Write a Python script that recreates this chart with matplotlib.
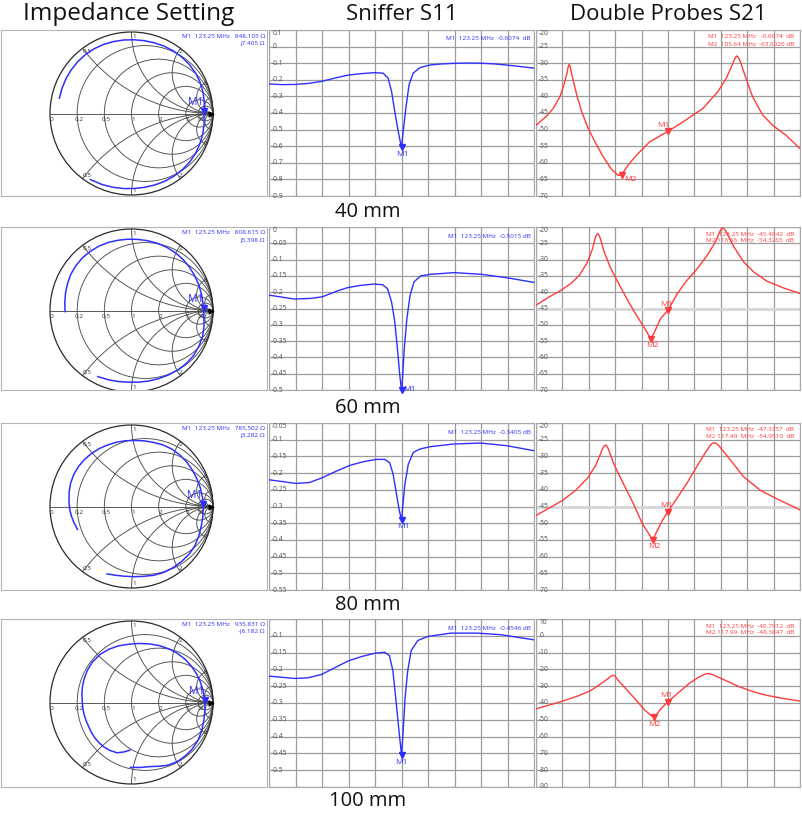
import numpy as np
import matplotlib
matplotlib.use('Agg')
import matplotlib.pyplot as plt
from matplotlib.patches import Circle

plt.rcParams['font.family'] = ['Open Sans', 'DejaVu Sans']

W, H = 802, 815

col_titles = ['Impedance Setting', 'Sniffer S11', 'Double Probes S21']
title_size = [17.5, 16, 16]
row_labels = ['40 mm', '60 mm', '80 mm', '100 mm']

f_center = 123.25
f_start, f_stop = 73.25, 173.25

# Smith chart traces: angle of Gamma (deg) and |Gamma|
smith_ang_40 = [168, 160, 152, 144, 136, 128, 120, 112, 104, 96, 88, 80, 72, 64, 56,
                48, 40, 32, 24, 16, 8, 0, -8, -16, -24, -32, -40, -48, -56, -64, -72,
                -80, -88, -96, -104, -112, -122]
smith_mag_40 = [0.905, 0.907, 0.91, 0.913, 0.916, 0.918, 0.917, 0.914, 0.91, 0.907,
                0.905, 0.907, 0.912, 0.918, 0.924, 0.928, 0.93, 0.93, 0.925, 0.915,
                0.902, 0.889, 0.9, 0.91, 0.918, 0.926, 0.93, 0.93, 0.929, 0.926, 0.922,
                0.92, 0.921, 0.926, 0.933, 0.943, 0.955]
smith_ang_60 = [181, 173, 165, 157, 149, 141, 133, 125, 117, 109, 101, 93, 85, 77, 69,
                61, 53, 45, 37, 29, 21, 13, 5, 0, -6, -12, -20, -28, -36, -44, -52, -60,
                -68, -76, -84, -92, -100, -108, -117]
smith_mag_60 = [0.815, 0.825, 0.838, 0.852, 0.867, 0.877, 0.883, 0.885, 0.885, 0.882,
                0.878, 0.876, 0.876, 0.879, 0.884, 0.888, 0.89, 0.89, 0.888, 0.885,
                0.883, 0.882, 0.882, 0.884, 0.893, 0.91, 0.928, 0.937, 0.94, 0.935,
                0.925, 0.912, 0.9, 0.891, 0.884, 0.88, 0.886, 0.896, 0.91]
smith_ang_80 = [203, 196, 189, 182, 175, 167, 159, 151, 143, 135, 127, 119, 111, 103,
                95, 87, 79, 71, 63, 55, 47, 39, 31, 23, 15, 7, 0, -8, -16, -24, -32,
                -40, -48, -56, -64, -72, -80, -88, -96, -103, -110]
smith_mag_80 = [0.72, 0.733, 0.747, 0.76, 0.77, 0.785, 0.80, 0.81, 0.815, 0.816, 0.815,
                0.813, 0.81, 0.81, 0.81, 0.812, 0.82, 0.832, 0.848, 0.861, 0.867, 0.87,
                0.87, 0.872, 0.875, 0.878, 0.88, 0.884, 0.89, 0.902, 0.915, 0.918,
                0.912, 0.907, 0.9, 0.887, 0.87, 0.862, 0.86, 0.866, 0.88]
smith_ang_100 = [-92, -99, -106, -114, -122, -129, -136, -143, -150, -158, -166, -174,
                 -182, -190, -198, -207, -216, -226, -237, -247, -257, -267, -277, -287,
                 -296, -305, -313, -321, -329, -336, -343, -350, -358, -366, -374, -382,
                 -390, -398, -405, -412, -420, -427, -434, -442, -451]
smith_mag_100 = [0.585, 0.615, 0.642, 0.645, 0.642, 0.634, 0.625, 0.614, 0.604, 0.6,
                 0.6, 0.602, 0.605, 0.618, 0.633, 0.65, 0.67, 0.69, 0.706, 0.71, 0.713,
                 0.716, 0.73, 0.752, 0.777, 0.803, 0.825, 0.845, 0.86, 0.872, 0.881,
                 0.89, 0.898, 0.906, 0.914, 0.928, 0.94, 0.938, 0.93, 0.918, 0.89, 0.85,
                 0.818, 0.805, 0.796]
smith_ang = [smith_ang_40, smith_ang_60, smith_ang_80, smith_ang_100]
smith_mag = [smith_mag_40, smith_mag_60, smith_mag_80, smith_mag_100]

# marker impedance (ohm), Z0 = 50
smith_m1_r = [848.105, 808.615, 785.502, 935.831]
smith_m1_x = [7.405, 5.398, 3.282, -6.182]
smith_info = ['M1  123.25 MHz   848.105 Ω', 'M1  123.25 MHz   808.615 Ω',
              'M1  123.25 MHz   785.502 Ω', 'M1  123.25 MHz   935.831 Ω']
smith_info2 = ['j7.405 Ω', 'j5.398 Ω', 'j3.282 Ω', '-j6.182 Ω']

smith_r = [0.2, 0.5, 1, 2, 5, 10]
smith_x = [0.5, 1, 2, 5, 10]
smith_r_labels = ['0', '0.2', '0.5', '1', '2', '5', '10']
smith_x_labels = ['0.5', '1', '2', '5']

# Sniffer S11 (MHz, dB)
s11_f_40 = [73.25, 78, 83, 88, 93, 98, 103, 108, 113, 116.3, 118.2, 119.5, 120.7, 122.0,
            123.0, 123.25, 123.9, 124.9, 126.1, 127.65, 130.2, 133.9, 138, 142.7, 148,
            152.8, 158, 162.9, 168, 173.25]
s11_db_40 = [-0.225, -0.229, -0.228, -0.222, -0.21, -0.19, -0.172, -0.163, -0.157, -0.16,
             -0.19, -0.27, -0.39, -0.51, -0.59, -0.607, -0.51, -0.37, -0.23, -0.16,
             -0.127, -0.111, -0.105, -0.101, -0.099, -0.1, -0.104, -0.111, -0.12, -0.13]
s11_f_60 = [73.25, 82.8, 89.0, 93.4, 99.1, 102.9, 107.9, 112.9, 116.1, 117.97, 119.5,
            120.7, 121.7, 122.6, 123.25, 123.6, 124.3, 125.3, 126.5, 128.0, 130.5, 134.3,
            143.1, 153.2, 163.3, 173.25]
s11_db_60 = [-0.209, -0.221, -0.219, -0.214, -0.196, -0.186, -0.179, -0.175, -0.177,
             -0.189, -0.23, -0.29, -0.372, -0.454, -0.5015, -0.47, -0.372, -0.28, -0.209,
             -0.168, -0.15, -0.145, -0.14, -0.145, -0.156, -0.17]
s11_f_80 = [73.25, 83.5, 88.6, 93.0, 98.7, 103.7, 108.8, 113.8, 116.9, 118.8, 120.1,
            121.4, 122.4, 123.25, 123.6, 124.5, 125.8, 127.7, 130.2, 134.0, 142.8, 152.9,
            163.0, 173.25]
s11_db_80 = [-0.22, -0.231, -0.228, -0.215, -0.194, -0.177, -0.166, -0.159, -0.159,
             -0.169, -0.204, -0.265, -0.311, -0.3405, -0.31, -0.235, -0.174, -0.138,
             -0.128, -0.121, -0.113, -0.11, -0.118, -0.133]
s11_f_100 = [73.25, 83.0, 88.0, 93.1, 98.1, 103.1, 108.1, 113.1, 116.9, 118.7, 120.0,
             121.2, 122.2, 123.25, 123.75, 124.6, 125.6, 126.9, 129.4, 133.1, 141.9,
             151.9, 161.0, 173.25]
s11_db_100 = [-0.22, -0.227, -0.225, -0.215, -0.195, -0.175, -0.162, -0.152, -0.149,
              -0.159, -0.204, -0.295, -0.375, -0.4546, -0.40, -0.285, -0.204, -0.144,
              -0.114, -0.102, -0.092, -0.092, -0.097, -0.112]
s11_f = [s11_f_40, s11_f_60, s11_f_80, s11_f_100]
s11_db = [s11_db_40, s11_db_60, s11_db_80, s11_db_100]
s11_info = ['M1  123.25 MHz  -0.6074  dB', 'M1  123.25 MHz  -0.5015 dB',
            'M1  123.25 MHz  -0.3405 dB', 'M1  123.25 MHz  -0.4546 dB']
s11_ylim = [(-0.9, 0.1), (-0.5, 0.0), (-0.55, -0.05), (-0.55, -0.05)]
s11_step = [0.1, 0.05, 0.05, 0.05]
s11_label_range = [(-0.9, 0.1), (-0.5, 0.0), (-0.55, -0.05), (-0.5, -0.1)]

# Double probes S21 (MHz, dB)
s21_f_40 = [73.25, 77.3, 79.8, 82.3, 83.8, 85.0, 85.4, 85.8, 86.2, 86.8, 88.7, 90.55,
            93.05, 95.6, 98.7, 101.9, 104.4, 105.64, 108.15, 111.3, 116.3, 123.25, 128.9,
            136.5, 142.1, 145.3, 147.8, 148.6, 149.3, 150.0, 150.9, 152.8, 155.3, 159.1,
            162.9, 167.9, 173.25]
s21_db_40 = [-48.7, -45.9, -43.6, -40.1, -36.6, -33.0, -31.2, -30.4, -31.0, -33.4, -39.6,
             -44.6, -49.7, -53.7, -58.2, -62.0, -63.8, -63.6, -60.7, -57.7, -53.7, -50.5,
             -47.7, -43.6, -38.6, -34.6, -30.1, -28.5, -27.8, -28.4, -30.1, -34.6, -40.1,
             -45.6, -48.7, -51.7, -55.7]
s21_f_60 = [73.25, 77.7, 82.75, 86.5, 89.7, 92.8, 94.7, 95.3, 95.95, 96.6, 97.2, 97.9,
            99.1, 101.6, 104.2, 107.9, 111.7, 114.8, 116.66, 117.9, 120.5, 123.25, 126.8,
            130.5, 134.3, 138.1, 141.2, 142.3, 143.1, 143.8, 144.6, 145.4, 148.2, 151.9,
            155.7, 160.7, 167.0, 173.25]
s21_db_60 = [-44.0, -41.7, -39.4, -37.3, -34.8, -30.7, -26.6, -24.5, -22.7, -22.0, -22.6,
             -24.3, -27.7, -32.8, -36.8, -42.4, -47.6, -51.6, -54.3, -52.6, -48.0, -45.5,
             -40.4, -36.3, -32.8, -28.7, -24.6, -22.5, -21.0, -20.3, -20.6, -21.6, -26.1,
             -30.7, -33.8, -36.6, -38.7, -40.4]
s21_f_80 = [73.25, 77.9, 83.1, 88.2, 92.7, 95.9, 97.8, 98.3, 99.0, 99.7, 100.3, 101.0,
            102.9, 106.05, 109.9, 113.7, 116.25, 117.49, 119.0, 121.3, 123.25, 126.4,
            130.3, 134.1, 137.3, 139.0, 139.8, 140.6, 141.5, 142.5, 146.8, 151.9, 158.3,
            164.7, 173.25]
s21_db_80 = [-47.7, -45.6, -43.3, -40.2, -36.6, -32.6, -29.0, -28.0, -26.9, -26.6, -27.1,
             -28.5, -32.6, -37.7, -43.8, -50.4, -53.5, -54.95, -52.5, -48.9, -46.5, -42.8,
             -38.2, -33.1, -29.0, -27.0, -26.2, -25.9, -26.1, -26.8, -31.0, -36.1, -40.2,
             -42.8, -46.0]
s21_f_100 = [73.25, 79.2, 84.3, 89.3, 93.8, 96.9, 100.1, 101.2, 102.0, 102.6, 103.2,
             103.9, 107.05, 110.9, 114.6, 117.2, 117.99, 118.8, 120.3, 123.25, 127.3,
             131.1, 134.9, 136.5, 137.3, 138.1, 139.0, 140.0, 145.0, 150.1, 155.2, 160.2,
             166.5, 173.25]
s21_db_100 = [-43.5, -40.8, -38.4, -35.7, -32.7, -29.6, -26.0, -24.6, -23.7, -23.5, -24.0,
              -25.6, -31.1, -37.8, -44.5, -47.8, -48.4, -47.2, -43.9, -39.2, -33.7, -28.6,
              -24.6, -23.4, -22.8, -22.5, -22.6, -23.0, -26.6, -30.2, -33.1, -35.3, -37.2,
              -38.8]
s21_f = [s21_f_40, s21_f_60, s21_f_80, s21_f_100]
s21_db = [s21_db_40, s21_db_60, s21_db_80, s21_db_100]
s21_m2_f = [105.64, 116.66, 117.49, 117.99]
s21_info1 = ['M1  123.25 MHz   -0.6074  dB', 'M1  123.25 MHz  -45.4842  dB',
             'M1  123.25 MHz  -47.3757  dB', 'M1  123.25 MHz  -40.7912  dB']
s21_info2 = ['M2  105.64 MHz  -63.6026 dB', 'M2 116.66  MHz  -54.3265  dB',
             'M2 117.49  MHz  -54.9510  dB', 'M2 117.99  MHz  -48.3847  dB']
s21_ylim = [(-70, -20), (-70, -20), (-70, -20), (-90, 10)]
s21_step = [5, 5, 5, 10]
s21_ref = [None, -45, -45, None]

# layout in pixels
row_top = [30, 227, 423, 619]
row_bot = [196, 390, 590, 787]
row_label_y = [212, 408, 605, 801]
col_x = [(1, 267), (269, 534), (536, 800)]
title_x = [129, 402, 668]

BLUE = '#2f2fff'
RED = '#ff3b3b'
GRID = '#9c9c9c'
SMITH_GRID = '#4c4c4c'


def px_axes(fig, x0, y0, x1, y1):
    return fig.add_axes([x0 / W, 1 - y1 / H, (x1 - x0) / W, (y1 - y0) / H])


def fig_text(fig, x, y, s, **kw):
    fig.text(x / W, 1 - y / H, s, **kw)


def draw_smith(fig, i):
    x0, x1 = col_x[0]
    y0, y1 = row_top[i], row_bot[i]
    ax = px_axes(fig, x0, y0, x1, y1)
    R = 81.5
    cx, cy = 131.5, y0 + 83.5
    ax.set_xlim(-(cx - x0) / R, (x1 - cx) / R)
    ax.set_ylim(-(y1 - cy) / R, (cy - y0) / R)
    ax.set_xticks([])
    ax.set_yticks([])
    for sp in ax.spines.values():
        sp.set_color('#b4b4b4')
        sp.set_linewidth(0.8)

    unit = Circle((0, 0), 1, transform=ax.transData)
    for r in smith_r:
        ax.add_patch(Circle((r / (1 + r), 0), 1 / (1 + r), fill=False,
                            ec=SMITH_GRID, lw=0.65))
    for xv in smith_x:
        for sgn in (1, -1):
            c = Circle((1, sgn / xv), 1 / xv, fill=False, ec=SMITH_GRID, lw=0.65)
            ax.add_patch(c)
            c.set_clip_path(unit)
    ax.add_patch(Circle((0, 0), 1, fill=False, ec='#2a2a2a', lw=0.9))
    ax.plot([-1, 1], [0, 0], color=SMITH_GRID, lw=0.65)

    # resistance labels along the real axis
    cross = [-1.0] + [(r - 1) / (r + 1) for r in smith_r]
    for u, lab in zip(cross, smith_r_labels):
        ax.text(u + 0.02, -0.075, lab, fontsize=4.6, color='#333333',
                ha='center', va='center')
    # reactance labels on the rim
    for xv, lab in zip(smith_x[:4], smith_x_labels):
        gu = (xv ** 2 - 1) / (xv ** 2 + 1)
        gv = 2 * xv / (xv ** 2 + 1)
        for sgn in (1, -1):
            ax.text(0.95 * gu + 0.03, sgn * 0.95 * gv, lab, fontsize=4.6,
                    color='#333333', ha='center', va='center')

    a = np.radians(smith_ang[i])
    m = np.array(smith_mag[i])
    ax.plot(m * np.cos(a), m * np.sin(a), color=BLUE, lw=1.1)

    z = complex(smith_m1_r[i], smith_m1_x[i]) / 50.0
    g = (z - 1) / (z + 1)
    ax.plot(0.975, 0, marker='>', color='black', ms=3.5)
    ax.plot(g.real, g.imag + 0.03, marker='v', color=BLUE, ms=4)
    ax.text(g.real - 0.1, g.imag + 0.13, 'M1', color=BLUE, fontsize=7.5,
            ha='center', va='center')

    fig_text(fig, x1 - 2, y0 + 6, smith_info[i], fontsize=4.6, color=BLUE,
             ha='right', va='center')
    fig_text(fig, x1 - 2, y0 + 13, smith_info2[i], fontsize=4.6, color=BLUE,
             ha='right', va='center')


def draw_rect(fig, col, i, f, db, ylim, step, label_range, color):
    x0, x1 = col_x[col]
    y0, y1 = row_top[i], row_bot[i]
    ax = px_axes(fig, x0, y0, x1, y1)
    ax.set_xlim(f_start, f_stop)
    ax.set_ylim(*ylim)
    ax.set_xticks(np.arange(f_start, f_stop + 0.01, 10.0))
    ticks = np.arange(ylim[0], ylim[1] + step / 2, step)
    ax.set_yticks(ticks)
    ax.tick_params(length=0, labelleft=False, labelbottom=False)
    ax.grid(True, color=GRID, lw=0.9)
    for sp in ax.spines.values():
        sp.set_color('#a8a8a8')
        sp.set_linewidth(0.8)
    tr = ax.get_yaxis_transform()
    for t in ticks:
        if t < label_range[0] - 1e-9 or t > label_range[1] + 1e-9:
            continue
        lab = '0' if abs(t) < 1e-9 else f'{round(t, 3):g}'
        va = 'top' if abs(t - ylim[1]) < 1e-9 else 'center'
        ax.text(0.012, t, lab, transform=tr, fontsize=4.8, color='#4a4a4a',
                ha='left', va=va, clip_on=False)
    ax.plot(f, db, color=color, lw=1.0, zorder=3)
    return ax


fig = plt.figure(figsize=(W / 100, H / 100), dpi=100)
fig.patch.set_facecolor('white')

for x, t, fs in zip(title_x, col_titles, title_size):
    fig_text(fig, x, 14, t, fontsize=fs, ha='center', va='center', color='#111111')

s11_lab_off = [(1, -7), (8, 1), (2, -6), (0, -8)]
s21_m1_off = [(-5, 6), (-2, 6), (-2, 6), (-2, 6)]
s21_m2_off = [(9, -5), (2, -7), (2, -7), (0, -7)]

for i in range(4):
    draw_smith(fig, i)

    # sniffer S11
    ax = draw_rect(fig, 1, i, s11_f[i], s11_db[i], s11_ylim[i], s11_step[i],
                   s11_label_range[i], BLUE)
    m1 = np.interp(f_center, s11_f[i], s11_db[i])
    ax.plot(f_center, m1, marker='v', color=BLUE, ms=4, zorder=4, clip_on=False)
    dx, dy = s11_lab_off[i]
    ax.annotate('M1', (f_center, m1), xytext=(dx, dy), textcoords='offset pixels',
                color=BLUE, fontsize=6, ha='center', va='center',
                annotation_clip=False)
    x0, x1 = col_x[1]
    fig_text(fig, x1 - 3, row_top[i] + 9, s11_info[i], fontsize=4.6, color=BLUE,
             ha='right', va='center')

    # double probes S21
    ax = draw_rect(fig, 2, i, s21_f[i], s21_db[i], s21_ylim[i], s21_step[i],
                   s21_ylim[i], RED)
    if s21_ref[i] is not None:
        ax.axhline(s21_ref[i], color='#d6d6d6', lw=2.0, zorder=2)
    m1 = np.interp(f_center, s21_f[i], s21_db[i])
    m2 = np.interp(s21_m2_f[i], s21_f[i], s21_db[i])
    for fm, vm, lab, off in ((f_center, m1, 'M1', s21_m1_off[i]),
                             (s21_m2_f[i], m2, 'M2', s21_m2_off[i])):
        ax.plot(fm, vm, marker='v', color=RED, ms=4, zorder=4)
        ax.annotate(lab, (fm, vm), xytext=off, textcoords='offset pixels',
                    color=RED, fontsize=6, ha='center', va='center')
    x0, x1 = col_x[2]
    fig_text(fig, x1 - 6, row_top[i] + 7, s21_info1[i], fontsize=4.6, color=RED,
             ha='right', va='center')
    fig_text(fig, x1 - 6, row_top[i] + 14, s21_info2[i], fontsize=4.6, color=RED,
             ha='right', va='center')

    fig_text(fig, 368, row_label_y[i], row_labels[i], fontsize=14.5, ha='center',
             va='center', color='#111111')

fig.savefig('out.png', dpi=100)
